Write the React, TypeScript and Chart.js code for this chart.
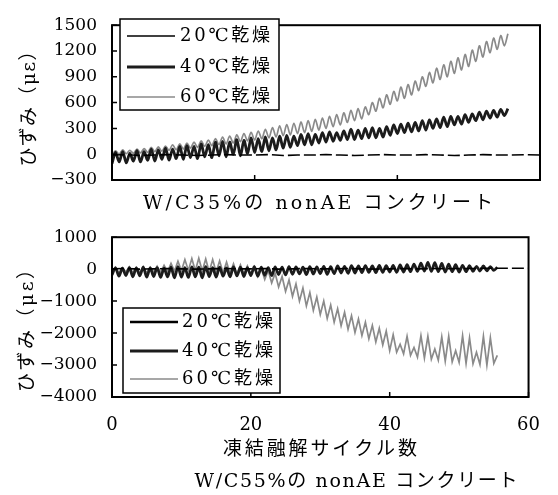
import React, { useEffect, useRef } from "react";
import { Chart, registerables } from "chart.js";
Chart.register(...registerables);

// ---------- text ----------
const SERIES_LABELS = ["20℃乾燥", "40℃乾燥", "60℃乾燥"];
const TOP_TITLE = "W/C35%の nonAE コンクリート";
const BOTTOM_TITLE = "W/C55%の nonAE コンクリート";
const X_TITLE = "凍結融解サイクル数";
const Y_TITLE = "ひずみ（με）";

// ---------- ticks ----------
const X_TICKS = [0, 20, 40, 60];
const TOP_Y_TICKS = [-300, 0, 300, 600, 900, 1200, 1500];
const BOTTOM_Y_TICKS = [-4000, -3000, -2000, -1000, 0, 1000];

// ---------- data: W/C35% ----------
const REF_CYCLES = [0, 2, 4, 6, 8, 10, 12, 14, 16, 18, 20, 22, 24, 26, 28, 30, 32, 34, 36, 38, 40, 42, 44, 46, 48, 50, 52, 54, 56, 58, 60];
const TOP_20 = [-10, -5, -15, -10, -5, -10, -15, -10, -5, -10, -10, -5, -15, -10, -10, -5, -10, -15, -10, -5, -10, -10, -5, -10, -15, -10, -5, -10, -10, -5, -10];
// per freeze-thaw cycle: low (start of cycle) and high (mid cycle)
const TOP_40_LO = [-110, -90, -100, -80, -90, -70, -80, -60, -70, -50, -60, -40, -50, -30, -40, -20, -30, 0, -20, 10, 20, 30, 40, 50, 70, 80, 100, 110, 110, 130, 140, 150, 160, 170, 170, 180, 190, 190, 200, 220, 240, 250, 260, 270, 280, 300, 310, 320, 340, 350, 370, 390, 400, 420, 430, 450];
const TOP_40_HI = [20, 30, 10, 40, 30, 60, 50, 70, 60, 90, 100, 90, 120, 110, 140, 150, 140, 170, 160, 190, 180, 200, 190, 210, 220, 210, 230, 240, 230, 250, 260, 250, 270, 290, 280, 300, 310, 300, 320, 340, 350, 360, 370, 390, 400, 410, 430, 440, 440, 460, 470, 490, 500, 510, 520, 530];
const TOP_60_LO = [-10, 0, 5, 10, 15, 20, 30, 35, 45, 50, 60, 70, 80, 90, 100, 110, 120, 130, 145, 155, 165, 180, 190, 200, 215, 225, 240, 250, 265, 280, 300, 320, 340, 370, 390, 410, 460, 500, 540, 580, 620, 650, 690, 740, 790, 830, 870, 900, 940, 980, 1020, 1080, 1130, 1180, 1220, 1260];
const TOP_60_HI = [40, 50, 45, 60, 65, 80, 85, 95, 110, 120, 130, 140, 155, 165, 180, 200, 210, 225, 240, 255, 270, 290, 310, 330, 345, 360, 375, 390, 405, 420, 440, 460, 480, 510, 530, 550, 600, 650, 690, 730, 780, 810, 850, 900, 950, 1000, 1040, 1080, 1120, 1160, 1210, 1260, 1310, 1350, 1380, 1400];

// ---------- data: W/C55% ----------
const BOT_20 = [10, 20, 0, 10, 20, 10, 0, 10, 20, 10, 10, 20, 0, 10, 20, 10, 10, 20, 10, 0, 10, 20, 10, 20, 10, 20, 20, 30, 30, 30, 30];
const BOT_40_LO = [-180, -220, -200, -240, -210, -250, -230, -260, -240, -270, -250, -260, -240, -270, -230, -250, -220, -240, -210, -230, -200, -220, -190, -200, -170, -180, -160, -150, -170, -150, -140, -160, -140, -120, -130, -120, -110, -100, -110, -100, -90, -100, -90, -80, -70, -60, -70, -80, -90, -80, -90, -80, -70, -60, -50, -40];
const BOT_40_HI = [40, 30, 50, 40, 60, 40, 50, 30, 60, 80, 50, 70, 60, 80, 50, 60, 40, 70, 60, 50, 80, 60, 50, 70, 60, 80, 70, 60, 80, 70, 90, 80, 100, 90, 110, 100, 110, 100, 120, 110, 120, 130, 140, 160, 190, 210, 200, 180, 160, 140, 120, 110, 90, 100, 80, 60];
const BOT_60_LO = [-100, -120, -90, -110, -100, -120, -90, -100, -80, -60, -50, -40, -50, -60, -80, -90, -110, -130, -150, -160, -180, -230, -320, -430, -560, -700, -850, -1000, -1150, -1290, -1420, -1540, -1660, -1770, -1880, -1980, -2080, -2180, -2280, -2370, -2550, -2600, -2650, -2700, -2750, -2780, -2820, -2850, -2880, -2900, -2920, -2950, -2960, -2980, -3000, -2950];
const BOT_60_HI = [60, 40, 70, 50, 80, 60, 90, 120, 180, 250, 300, 330, 340, 320, 300, 260, 220, 170, 130, 100, 70, 20, -40, -130, -230, -340, -460, -590, -730, -870, -1000, -1120, -1240, -1350, -1460, -1560, -1660, -1760, -1850, -1940, -2050, -2350, -2100, -2450, -2080, -2100, -2500, -2120, -2100, -2550, -2080, -2150, -2600, -2100, -2150, -2700];

// ---------- styles ----------
const FAMILY = "'DejaVu Serif', 'Noto Sans CJK JP', serif";
const STYLE_20 = { color: "#000000", width: 1.6 };
const STYLE_40 = { color: "#1c1c1c", width: 2.8 };
const STYLE_60 = { color: "#8a8a8a", width: 1.7 };

type Pt = { x: number; y: number };
const zig = (lo: number[], hi: number[]): Pt[] =>
  lo.flatMap((v, i) => [
    { x: i, y: v },
    { x: i + 0.5, y: hi[i] },
  ]);
const pairs = (xs: number[], ys: number[]): Pt[] => xs.map((x, i) => ({ x, y: ys[i] }));

function spaced(ctx: CanvasRenderingContext2D, text: string, x: number, y: number, target: number, size: number, align: "center" | "left", rot = false) {
  ctx.save();
  ctx.font = `${size}px ${FAMILY}`;
  (ctx as any).letterSpacing = "0px";
  const w = ctx.measureText(text).width;
  const n = Array.from(text).length;
  const sp = n > 1 ? (target - w) / (n - 1) : 0;
  (ctx as any).letterSpacing = `${sp}px`;
  ctx.fillStyle = "#000";
  ctx.textBaseline = "middle";
  ctx.textAlign = "left";
  ctx.translate(x, y);
  if (rot) ctx.rotate(-Math.PI / 2);
  const vis = w + sp * (n - 1);
  const sx = align === "center" ? -vis / 2 : 0;
  ctx.fillText(text, sx, 0);
  ctx.restore();
}

type Deco = {
  box: [number, number, number, number];
  rows: number[];
  lineX: [number, number];
  textX: number;
  textW: number;
  legendStyles: { color: string; width: number }[];
  titles: { text: string; x: number; y: number; w: number; rot?: boolean }[];
  yTicks: number[];
};

function decoPlugin(d: Deco) {
  return {
    id: "deco",
    afterDraw(chart: any) {
      const ctx: CanvasRenderingContext2D = chart.ctx;
      const a = chart.chartArea;
      const xs = chart.scales.x;
      const ys = chart.scales.y;
      ctx.save();
      ctx.strokeStyle = "#000";
      ctx.lineWidth = 1.5;
      ctx.beginPath();
      d.yTicks.forEach((v) => {
        const py = ys.getPixelForValue(v);
        ctx.moveTo(a.left, py);
        ctx.lineTo(a.left + 5, py);
      });
      X_TICKS.forEach((v) => {
        const px = xs.getPixelForValue(v);
        ctx.moveTo(px, a.bottom);
        ctx.lineTo(px, a.bottom - 5);
      });
      ctx.stroke();
      ctx.lineWidth = 2;
      ctx.strokeRect(a.left, a.top, a.right - a.left, a.bottom - a.top);
      const [bx1, by1, bx2, by2] = d.box;
      ctx.fillStyle = "#fff";
      ctx.fillRect(bx1, by1, bx2 - bx1, by2 - by1);
      ctx.lineWidth = 1.5;
      ctx.strokeStyle = "#000";
      ctx.strokeRect(bx1, by1, bx2 - bx1, by2 - by1);
      d.rows.forEach((ry, i) => {
        const st = d.legendStyles[i];
        ctx.beginPath();
        ctx.strokeStyle = st.color;
        ctx.lineWidth = st.width;
        ctx.moveTo(d.lineX[0], ry);
        ctx.lineTo(d.lineX[1], ry);
        ctx.stroke();
        spaced(ctx, SERIES_LABELS[i], d.textX, ry, d.textW, 18, "left");
      });
      ctx.restore();
      d.titles.forEach((t) => spaced(ctx, t.text, t.x, t.y, t.w, 19, "center", !!t.rot));
    },
  };
}

function makeChart(canvas: HTMLCanvasElement, o: {
  datasets: any[]; yMin: number; yMax: number; yTicks: number[]; showX: boolean; padTop: number; xH: number; deco: Deco;
}) {
  return new Chart(canvas, {
    type: "line",
    data: { datasets: o.datasets },
    options: {
      animation: false,
      responsive: false,
      devicePixelRatio: 1,
      layout: { padding: { left: 0, right: 18, top: o.padTop, bottom: 0 } },
      plugins: { legend: { display: false }, tooltip: { enabled: false } },
      elements: { point: { radius: 0 }, line: { tension: 0 } },
      scales: {
        x: {
          type: "linear",
          min: 0,
          max: 60,
          grid: { display: false, drawTicks: false },
          border: { display: false },
          afterBuildTicks: (s: any) => {
            s.ticks = X_TICKS.map((v) => ({ value: v }));
          },
          afterFit: (s: any) => {
            s.height = o.xH;
          },
          ticks: { display: o.showX, padding: 18, color: "#000", font: { family: FAMILY, size: 18 }, maxRotation: 0, autoSkip: false },
        },
        y: {
          type: "linear",
          min: o.yMin,
          max: o.yMax,
          grid: { display: false, drawTicks: false },
          border: { display: false },
          afterBuildTicks: (s: any) => {
            s.ticks = o.yTicks.map((v) => ({ value: v }));
          },
          afterFit: (s: any) => {
            s.width = 112;
          },
          ticks: {
            padding: 15,
            color: "#000",
            font: { family: FAMILY, size: 17 },
            autoSkip: false,
            callback: (v: any) => (Number(v) < 0 ? "\u2212" + Math.abs(Number(v)) : String(v)),
          },
        },
      },
    } as any,
    plugins: [decoPlugin(o.deco)],
  });
}

const ds = (label: string, data: Pt[], st: { color: string; width: number }, dash: number[] = [], tension = 0) => ({
  label,
  data,
  borderColor: st.color,
  backgroundColor: st.color,
  borderWidth: st.width,
  borderDash: dash,
  pointRadius: 0,
  tension,
  fill: false,
});

export default function App() {
  const topRef = useRef<HTMLCanvasElement>(null);
  const botRef = useRef<HTMLCanvasElement>(null);

  useEffect(() => {
    const top = makeChart(topRef.current!, {
      datasets: [
        ds(SERIES_LABELS[0], pairs(REF_CYCLES, TOP_20), STYLE_20, [12, 4]),
        ds(SERIES_LABELS[1], zig(TOP_40_LO, TOP_40_HI), STYLE_40, [], 0.3),
        ds(SERIES_LABELS[2], zig(TOP_60_LO, TOP_60_HI), STYLE_60, [], 0.3),
      ],
      yMin: -300,
      yMax: 1500,
      yTicks: TOP_Y_TICKS,
      showX: false,
      padTop: 13,
      xH: 45,
      deco: {
        box: [120, 19, 279, 110],
        rows: [36, 67, 97],
        lineX: [127, 175],
        textX: 180,
        textW: 90,
        legendStyles: [STYLE_20, STYLE_40, STYLE_60],
        titles: [
          { text: TOP_TITLE, x: 318, y: 204, w: 350 },
          { text: Y_TITLE, x: 30, y: 104, w: 125, rot: true },
        ],
        yTicks: TOP_Y_TICKS,
      },
    });
    const bot = makeChart(botRef.current!, {
      datasets: [
        ds(SERIES_LABELS[0], pairs(REF_CYCLES, BOT_20), STYLE_20, [12, 4]),
        ds(SERIES_LABELS[1], zig(BOT_40_LO, BOT_40_HI), STYLE_40, [], 0.3),
        ds(SERIES_LABELS[2], zig(BOT_60_LO, BOT_60_HI), STYLE_60),
      ],
      yMin: -4000,
      yMax: 1000,
      yTicks: BOTTOM_Y_TICKS,
      showX: true,
      padTop: 19,
      xH: 98,
      deco: {
        box: [123, 96, 280, 181],
        rows: [110, 139, 167],
        lineX: [130, 178],
        textX: 182,
        textW: 91,
        legendStyles: [{ color: "#000", width: 2.6 }, STYLE_40, STYLE_60],
        titles: [
          { text: X_TITLE, x: 320, y: 238, w: 194 },
          { text: BOTTOM_TITLE, x: 356, y: 270, w: 323 },
          { text: Y_TITLE, x: 28, y: 114, w: 132, rot: true },
        ],
        yTicks: BOTTOM_Y_TICKS,
      },
    });
    return () => {
      top.destroy();
      bot.destroy();
    };
  }, []);

  return (
    <div style={{ position: "absolute", left: 0, top: 0, width: 558, height: 495, background: "#fff", overflow: "hidden" }}>
      <canvas ref={topRef} width={558} height={225} style={{ position: "absolute", left: 0, top: 0 }} />
      <canvas ref={botRef} width={558} height={283} style={{ position: "absolute", left: 0, top: 212 }} />
    </div>
  );
}
